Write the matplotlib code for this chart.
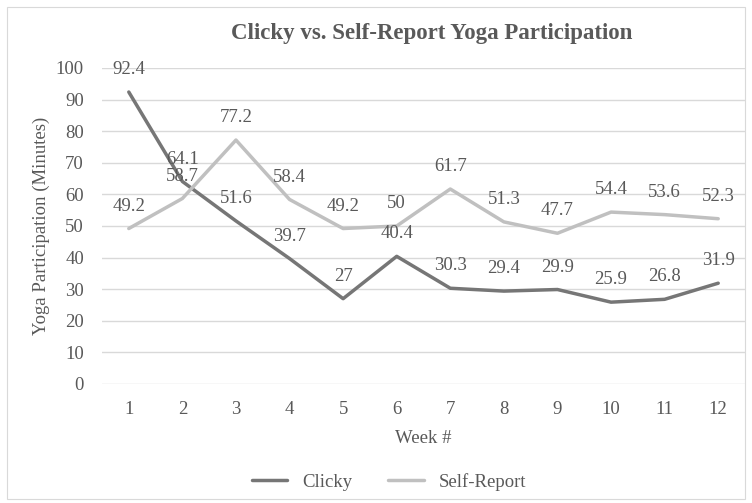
import matplotlib
matplotlib.use("Agg")
import matplotlib.pyplot as plt
from matplotlib.patches import Rectangle

weeks = [1, 2, 3, 4, 5, 6, 7, 8, 9, 10, 11, 12]
clicky = [92.4, 64.1, 51.6, 39.7, 27, 40.4, 30.3, 29.4, 29.9, 25.9, 26.8, 31.9]
self_report = [49.2, 58.7, 77.2, 58.4, 49.2, 50, 61.7, 51.3, 47.7, 54.4, 53.6, 52.3]

plt.rcParams["font.family"] = ["Liberation Serif", "DejaVu Serif"]
txt = "#595959"

W, H = 752, 503
fig = plt.figure(figsize=(W / 100, H / 100), dpi=100)
fig.patches.append(Rectangle((7 / W, 4 / H), 738 / W, 492 / H, transform=fig.transFigure,
                             fill=False, edgecolor="#D9D9D9", lw=0.8))

ax = fig.add_axes([102 / W, (H - 384) / H, 643 / W, 316 / H])
ax.set_xlim(0.5, 12.5)
ax.set_ylim(0, 100)
ax.set_yticks(range(0, 101, 10))
ax.set_xticks(weeks)
ax.grid(axis="y", color="#D9D9D9", lw=1)
ax.set_axisbelow(True)
for s in ax.spines.values():
    s.set_visible(False)
ax.tick_params(length=0, labelsize=13.5, labelcolor=txt)
ax.tick_params(axis="y", pad=13)
ax.tick_params(axis="x", pad=12)

ax.plot(weeks, clicky, color="#767676", lw=2.5, label="Clicky", solid_capstyle="round")
ax.plot(weeks, self_report, color="#C0C0C0", lw=2.5, label="Self-Report", solid_capstyle="round")

for x, v in zip(weeks, clicky):
    ax.annotate(f"{v:g}", (x, v), xytext=(0, 10), textcoords="offset points",
                ha="center", va="bottom", fontsize=13.5, color=txt)
for x, v in zip(weeks, self_report):
    ax.annotate(f"{v:g}", (x, v), xytext=(0, 10), textcoords="offset points",
                ha="center", va="bottom", fontsize=13.5, color=txt)

ax.set_xlabel("Week #", fontsize=13.5, color=txt, labelpad=9)
ax.set_ylabel("Yoga Participation (Minutes)", fontsize=13.5, color=txt, labelpad=4)
fig.text(432 / W, 1 - 33 / H, "Clicky vs. Self-Report Yoga Participation", ha="center",
         va="center", fontsize=16.5, fontweight="bold", color=txt)

leg = fig.legend(loc="center", bbox_to_anchor=(389 / W, 1 - 482 / H), ncol=2, frameon=False,
                 fontsize=13.5, handlelength=1.9, columnspacing=1.9, handletextpad=0.8)
for t in leg.get_texts():
    t.set_color(txt)

fig.savefig("out.png", dpi=100)
